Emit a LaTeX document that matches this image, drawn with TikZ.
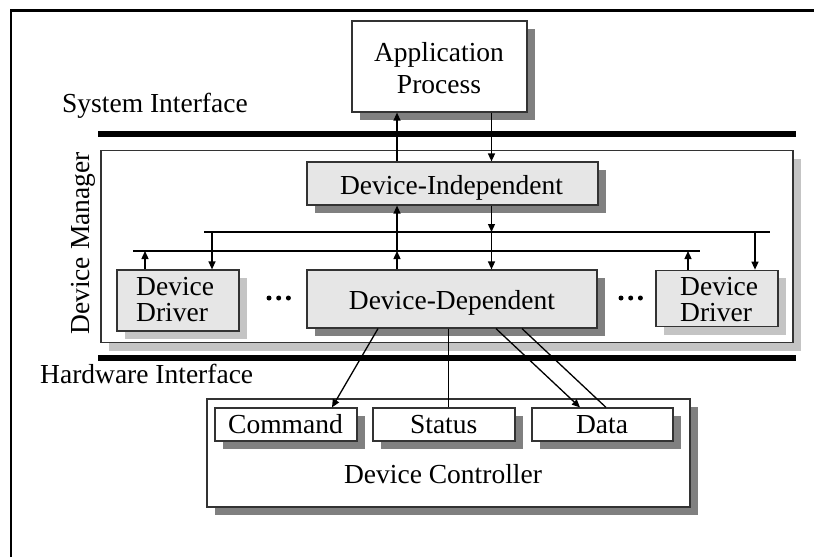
\documentclass[tikz,border=0pt]{standalone}
\usepackage{fontspec}
\setmainfont{Liberation Serif}
\usetikzlibrary{arrows.meta,shadows}

\definecolor{boxline}{HTML}{333333}
\definecolor{boxfill}{HTML}{E6E6E6}
\definecolor{shadowdark}{HTML}{808080}
\definecolor{shadowlight}{HTML}{C4C4C4}

\tikzset{
  box/.style={rectangle, draw=boxline, line width=1.2pt, inner sep=0pt},
  whitebox/.style={box, fill=white},
  greybox/.style={box, fill=boxfill},
  darkshadow/.style={drop shadow={shadow xshift=8pt, shadow yshift=-8pt, fill=shadowdark, opacity=1}},
  lightshadow/.style={drop shadow={shadow xshift=8pt, shadow yshift=-8pt, fill=shadowlight, opacity=1}},
  lbl/.style={font=\fontsize{27.5}{33}\selectfont, inner sep=0pt, anchor=base},
  arr/.style={line width=1.3pt, -{Triangle[length=8pt,width=7pt]}},
  link/.style={line width=1.3pt},
  bar/.style={line width=5.5pt},
  bus/.style={line width=2.5pt},
  dot/.style={fill=black, circle, inner sep=0pt, minimum size=5pt},
}

\begin{document}
\begin{tikzpicture}[x=1pt, y=-1pt]
\useasboundingbox (0,0) rectangle (814,557);

% outer frame (left and top edges only)
\draw[line width=2.5pt] (11,557) -- (11,10.5) -- (814,10.5);

% application level
\node[whitebox, darkshadow, minimum width=175pt, minimum height=91pt] (app) at (439.5,66.5) {};
\node[lbl] (appA) at (439,61) {Application};
\node[lbl] (appB) at (439,93.5) {Process};

% system interface
\node[lbl, anchor=base west] (sysif) at (62,112) {System Interface};
\coordinate (sysL) at (98,134);
\coordinate (sysR) at (796,134);
\draw[bar] (sysL) -- (sysR);

% device manager frame
\node[whitebox, lightshadow, minimum width=692pt, minimum height=192pt] (dm) at (447,246.5) {};
\node[lbl, rotate=90] (dmT) at (89.3,243.5) {Device Manager};

% device-independent part
\node[greybox, darkshadow, minimum width=291pt, minimum height=43pt] (di) at (452.5,183.5) {};
\node[lbl] (diT) at (451.5,194.3) {Device-Independent};

% device-dependent part
\node[greybox, darkshadow, minimum width=290pt, minimum height=58pt] (dd) at (452,299) {};
\node[lbl] (ddT) at (452,309.3) {Device-Dependent};

% device drivers
\node[greybox, lightshadow, minimum width=122pt, minimum height=61pt] (drvL) at (178,300.5) {};
\node[lbl, anchor=base west] (drvLa) at (136,295) {Device};
\node[lbl, anchor=base west] (drvLb) at (136,321) {Driver};
\node[greybox, lightshadow, minimum width=122pt, minimum height=56.5pt] (drvR) at (717,298.5) {};
\node[lbl, anchor=base west] (drvRa) at (680,295) {Device};
\node[lbl, anchor=base west] (drvRb) at (680,321) {Driver};

% ellipses between drivers
\node[dot] (dl1) at (269,298) {};
\node[dot] (dl2) at (278.7,298) {};
\node[dot] (dl3) at (288.4,298) {};
\node[dot] (dr1) at (621,298) {};
\node[dot] (dr2) at (630.7,298) {};
\node[dot] (dr3) at (640.4,298) {};

% buses: downward (upper) and upward (lower)
\coordinate (downL) at (204,232);
\coordinate (downR) at (770,232);
\coordinate (upL) at (133,251);
\coordinate (upR) at (700,251);
\draw[bus] (downL) -- (downR);
\draw[bus] (upL) -- (upR);

% x positions of vertical links
\coordinate (xa) at (397,0);
\coordinate (xb) at (491.5,0);
\coordinate (xl1) at (145,0);
\coordinate (xl2) at (212,0);
\coordinate (xr1) at (688,0);
\coordinate (xr2) at (755,0);

% application <-> device-independent
\draw[arr] (di.north -| xa) -- (app.south -| xa);
\draw[arr] (app.south -| xb) -- (di.north -| xb);

% device-independent <-> buses <-> device-dependent
\draw[arr] (upL -| xa) -- (di.south -| xa);
\draw[arr] (dd.north -| xa) -- (upL -| xa);
\draw[arr] (di.south -| xb) -- (downL -| xb);
\draw[arr] (downL -| xb) -- (dd.north -| xb);

% drivers <-> buses
\draw[arr] (drvL.north -| xl1) -- (upL -| xl1);
\draw[arr] (downL -| xl2) -- (drvL.north -| xl2);
\draw[arr] (drvR.north -| xr1) -- (upL -| xr1);
\draw[arr] (downL -| xr2) -- (drvR.north -| xr2);

% hardware interface
\coordinate (hwL) at (98,358);
\coordinate (hwR) at (796,358);
\draw[bar] (hwL) -- (hwR);
\node[lbl, anchor=base west] (hwif) at (40,383) {Hardware Interface};

% device controller and its registers
\node[whitebox, darkshadow, minimum width=483pt, minimum height=108pt] (ctrl) at (448.5,453) {};
\node[lbl] (ctrlT) at (443,483) {Device Controller};
\node[whitebox, darkshadow, minimum width=142pt, minimum height=33pt] (cmd) at (286,424.5) {};
\node[lbl] (cmdT) at (285.5,433.3) {Command};
\node[whitebox, darkshadow, minimum width=142pt, minimum height=33pt] (status) at (444,424.5) {};
\node[lbl] (statusT) at (443.7,433.3) {Status};
\node[whitebox, darkshadow, minimum width=141pt, minimum height=33pt] (data) at (602.5,424.5) {};
\node[lbl] (dataT) at (602,433.3) {Data};

% device-dependent <-> controller registers
\coordinate (c1) at (378,0);
\coordinate (c2) at (332,0);
\coordinate (s1) at (448.3,0);
\coordinate (d1) at (496,0);
\coordinate (d2) at (580,0);
\coordinate (d3) at (522,0);
\coordinate (d4) at (606,0);
\draw[arr] (dd.south -| c1) -- (cmd.north -| c2);
\draw[link] (dd.south -| s1) -- (status.north -| s1);
\draw[arr] (dd.south -| d1) -- (data.north -| d2);
\draw[link] (dd.south -| d3) -- (data.north -| d4);
\end{tikzpicture}
\end{document}
